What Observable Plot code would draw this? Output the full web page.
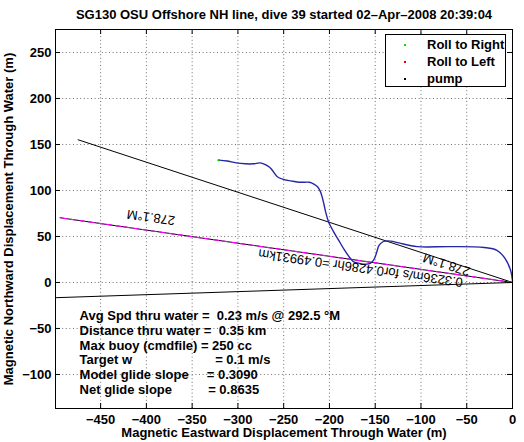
<!DOCTYPE html>
<html>
<head>
<meta charset="utf-8">
<script src="https://cdn.jsdelivr.net/npm/d3@7"></script>
<script src="https://cdn.jsdelivr.net/npm/@observablehq/plot@0.6"></script>
<style>
  html, body { margin: 0; padding: 0; background: #fff; }
  #wrap { position: relative; width: 524px; height: 442px; font-family: "Liberation Sans", Arial, Helvetica, sans-serif; }
  #legend { position: absolute; left: 385px; top: 34px; width: 119px; height: 51px; border: 1px solid #000; background: #fff; font-weight: bold; font-size: 13px; color: #000; }
  #legend .row { position: absolute; left: 0; width: 119px; height: 16px; }
  #legend .dot { position: absolute; left: 18px; top: 7px; width: 2px; height: 2px; }
  #legend .lab { position: absolute; left: 41px; top: 0px; line-height: 16px; white-space: nowrap; }
</style>
</head>
<body>
<div id="wrap"></div>
<script>
// ---- data ----
const title = "SG130 OSU Offshore NH line, dive 39 started 02\u2013Apr\u20132008 20:39:04";
const xLabel = "Magnetic Eastward Displacement Through Water (m)";
const yLabel = "Magnetic Northward Displacement Through Water (m)";
const xTicks = [-450, -400, -350, -300, -250, -200, -150, -100, -50, 0];
const yTicks = [-100, -50, 0, 50, 100, 150, 200, 250];

// glider track (east, north) in metres
const trackX = [-321, -312, -302, -292, -283, -276, -272, -268, -264, -257, -250, -246, -240, -233, -227, -222, -217, -213, -210, -208, -206, -204, -201, -196, -190, -184, -177, -173, -168, -164, -159, -155, -152, -150, -148, -146, -142, -139, -133, -124, -104, -68, -31, -17, -8, -2, 0];
const trackY = [133, 132, 130, 129, 129, 130, 129, 127, 124, 115, 112, 111, 110, 109, 109, 109, 107, 104, 99, 93, 85, 76, 66, 56, 46, 36, 26, 22, 21, 20, 20, 21, 24, 28, 34, 40, 44, 45, 45, 43, 39, 39, 38, 35, 26, 13, 2];

// heading lines
const headingMag = 278.1;      // deg magnetic
const headingSpread = 10;      // deg either side
const runLengthKm = 0.49931;   // km
const headingLabel = "278.1\u00b0M";
const runLabel = "0.3236m/s for0.4286hr =0.49931km";

// statistics text block
const statLines = [
  "Avg Spd thru water =  0.23 m/s @ 292.5 \u00b0M",
  "Distance thru water =  0.35 km",
  "Max buoy (cmdfile) = 250 cc",
  "Target w                       = 0.1 m/s",
  "Model glide slope     = 0.3090",
  "Net glide slope          = 0.8635"
];

// legend
const legendNames = ["Roll to Right", "Roll to Left", "pump"];
const legendColors = ["#00dd00", "#dd0000", "#000000"];

// ---- derived geometry ----
const L = runLengthKm * 1000;
const rad = d => d * Math.PI / 180;
function headingLine(h) {
  return [{x: 0, y: 0}, {x: L * Math.sin(rad(h)), y: L * Math.cos(rad(h))}];
}
const midLine = headingLine(headingMag);
const upLine = headingLine(headingMag + headingSpread);
const lowLine = headingLine(headingMag - headingSpread);
const track = trackX.map((x, i) => ({x, y: trackY[i]}));

const W = 524, H = 442;
const mL = 55, mR = 12, mT = 29, mB = 34;
const frameH = H - mT - mB, frameW = W - mL - mR;

const labels = [
  {x: -395, y: 71, text: headingLabel, r: headingMag - 90},
  {x: -72, y: 19.5, text: headingLabel, r: headingMag + headingSpread - 90},
  {x: -166, y: 15.8, text: runLabel, r: headingMag - 90}
];
const stats = statLines.map((t, i) => ({x: -473, y: -36 - i * 16.2, text: t}));

const grid = {stroke: "#707070", strokeOpacity: 1, strokeDasharray: "1,2.6", strokeWidth: 1};

const plot = Plot.plot({
  width: W, height: H,
  marginLeft: mL, marginRight: mR, marginTop: mT, marginBottom: mB,
  style: {fontFamily: "'Liberation Sans', Arial, Helvetica, sans-serif", fontSize: "13px", fontWeight: "bold", background: "#fff", color: "#000"},
  x: {domain: [-499.3, 0]},
  y: {domain: [-137, 275]},
  marks: [
    Plot.gridX(xTicks.filter(d => d !== 0), grid),
    Plot.gridY(yTicks, grid),
    // heading lines
    Plot.line(lowLine, {x: "x", y: "y", stroke: "#000", strokeWidth: 1}),
    Plot.line(upLine, {x: "x", y: "y", stroke: "#000", strokeWidth: 1}),
    Plot.line(midLine, {x: "x", y: "y", stroke: "#000", strokeWidth: 1}),
    Plot.line(midLine, {x: "x", y: "y", stroke: "#ff00ff", strokeWidth: 1.2, strokeDasharray: "5,4"}),
    // track
    Plot.line(track, {x: "x", y: "y", stroke: "#2626a8", strokeWidth: 1.4, curve: "catmull-rom"}),
    Plot.dot([track[0]], {x: "x", y: "y", r: 1.2, fill: "#00cc00", stroke: null}),
    // line labels
    Plot.text(labels, {x: "x", y: "y", text: "text", rotate: "r", fontWeight: "normal", fontSize: 13, lineAnchor: "middle", textAnchor: "middle", fill: "#000"}),
    // stats
    Plot.text(stats, {x: "x", y: "y", text: "text", textAnchor: "start", lineAnchor: "middle", fill: "#000"}),
    // frame and inward ticks
    Plot.frame({stroke: "#000", strokeWidth: 1}),
    Plot.tickX(xTicks, {x: d => d, insetTop: frameH - 5, stroke: "#000"}),
    Plot.tickX(xTicks, {x: d => d, insetBottom: frameH - 5, stroke: "#000"}),
    Plot.tickY(yTicks, {y: d => d, insetRight: frameW - 5, stroke: "#000"}),
    Plot.tickY(yTicks, {y: d => d, insetLeft: frameW - 5, stroke: "#000"}),
    Plot.axisX({ticks: xTicks, tickSize: 0, tickPadding: 6, label: null, fill: "#000"}),
    Plot.axisY({ticks: yTicks, tickSize: 0, tickPadding: 4, label: null, fill: "#000"}),
    // titles
    Plot.text([title], {text: d => d, frameAnchor: "top", dy: -14.5, lineAnchor: "middle", textAnchor: "middle", fill: "#000"}),
    Plot.text([xLabel], {text: d => d, frameAnchor: "bottom", dy: 24.5, lineAnchor: "middle", textAnchor: "middle", fill: "#000"}),
    Plot.text([yLabel], {text: d => d, frameAnchor: "left", dx: -47, rotate: -90, lineAnchor: "middle", textAnchor: "middle", fill: "#000"})
  ]
});

const wrap = document.getElementById("wrap");
wrap.appendChild(plot);

const legend = document.createElement("div");
legend.id = "legend";
legendNames.forEach((name, i) => {
  const row = document.createElement("div");
  row.className = "row";
  row.style.top = (2 + i * 17) + "px";
  const dot = document.createElement("div");
  dot.className = "dot";
  dot.style.background = legendColors[i];
  const lab = document.createElement("div");
  lab.className = "lab";
  lab.textContent = name;
  row.appendChild(dot);
  row.appendChild(lab);
  legend.appendChild(row);
});
wrap.appendChild(legend);
</script>
</body>
</html>
